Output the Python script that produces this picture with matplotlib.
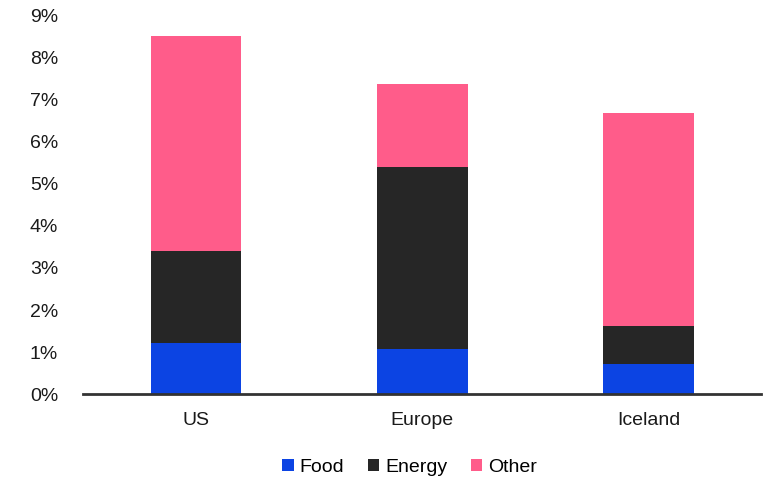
import numpy as np
import matplotlib.pyplot as plt
from matplotlib.ticker import FuncFormatter

plt.rcParams['font.family'] = ['Liberation Sans', 'DejaVu Sans']

regions = ['US', 'Europe', 'Iceland']
food = [1.21, 1.08, 0.71]     # % contribution
energy = [2.19, 4.33, 0.90]
other = [5.13, 1.98, 5.08]

c_food = '#0c44e3'
c_energy = '#262626'
c_other = '#ff5c8a'

fig = plt.figure(figsize=(7.63, 4.8), dpi=100)
ax = fig.add_axes([0.109, 0.179, 0.889, 0.788])

x = np.arange(len(regions))
w = 0.4
food_a = np.array(food)
energy_a = np.array(energy)
ax.bar(x, food, w, color=c_food, label='Food')
ax.bar(x, energy, w, bottom=food_a, color=c_energy, label='Energy')
ax.bar(x, other, w, bottom=food_a + energy_a, color=c_other, label='Other')

ax.set_xlim(-0.5, 2.5)
ax.set_ylim(0, 9)
ax.set_yticks(range(0, 10))
ax.yaxis.set_major_formatter(FuncFormatter(lambda v, p: f'{v:.0f}%'))
ax.set_xticks(x)
ax.set_xticklabels(regions)

for s in ['top', 'right', 'left']:
    ax.spines[s].set_visible(False)
ax.spines['bottom'].set_color('#333333')
ax.spines['bottom'].set_linewidth(2)
ax.tick_params(axis='both', length=0, labelsize=14, colors='#1a1a1a')
ax.tick_params(axis='y', pad=18)
ax.tick_params(axis='x', pad=13)

fig.legend(loc='center', bbox_to_anchor=(0.537, 0.027), ncol=3, frameon=False,
           fontsize=14, handlelength=0.6, handleheight=0.6, handletextpad=0.3,
           columnspacing=1.2)

plt.savefig('out.png', dpi=100)
